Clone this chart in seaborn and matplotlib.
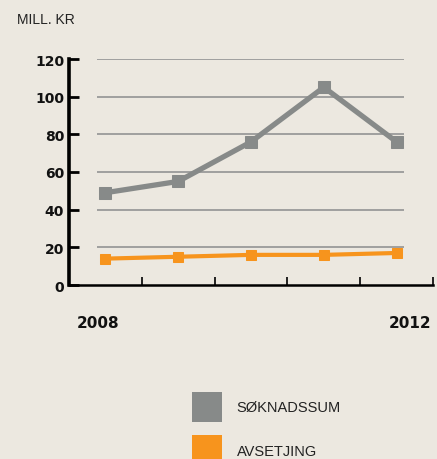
import matplotlib
matplotlib.use("Agg")
import matplotlib.pyplot as plt
import seaborn as sns
import pandas as pd
from matplotlib.patches import Patch

# Data
years = [2008, 2009, 2010, 2011, 2012]
soknadssum = [49, 55, 76, 105, 76]
avsetjing = [14, 15, 16, 16, 17]
series_names = ["SØKNADSSUM", "AVSETJING"]
y_ticks = [0, 20, 40, 60, 80, 100, 120]
year_labels = ["2008", "2012"]
unit_label = "MILL. KR"

bg = "#ECE8E0"
colors = {"SØKNADSSUM": "#878A89", "AVSETJING": "#F7941D"}

sns.set_theme(style="white")
plt.rcParams["font.family"] = ["Liberation Sans", "DejaVu Sans"]
num_font = dict(family="DejaVu Sans", fontweight="bold", color="#111111")

df = pd.DataFrame({
    "år": years * 2,
    "verdi": soknadssum + avsetjing,
    "serie": [series_names[0]] * len(years) + [series_names[1]] * len(years),
})

fig = plt.figure(figsize=(4.37, 4.6), dpi=100, facecolor=bg)
ax = fig.add_axes([69 / 437, 174 / 460, 364 / 437, 226 / 460])
ax.set_facecolor(bg)

# horizontal guide lines
ax.hlines(y_ticks[1:], years[0] - 0.115, years[-1] + 0.10,
          color="#9A9A9A", lw=1.3, zorder=1)

styles = {"SØKNADSSUM": dict(lw=3.8, ms=8.3), "AVSETJING": dict(lw=3.0, ms=7.3)}
for name in series_names:
    sub = df[df["serie"] == name]
    sns.lineplot(data=sub, x="år", y="verdi", ax=ax, color=colors[name],
                 marker="s", markersize=styles[name]["ms"],
                 markeredgecolor=colors[name], linewidth=styles[name]["lw"],
                 zorder=3, clip_on=False, legend=False)

ax.set_xlim(years[0] - 0.5, years[-1] + 0.5)
ax.set_ylim(0, 120)
ax.set_xlabel("")
ax.set_ylabel("")

ax.set_xticks([y - 0.5 for y in years] + [years[-1] + 0.5])
ax.set_xticklabels([])
ax.set_yticks(y_ticks)
ax.set_yticklabels([str(v) for v in y_ticks], fontsize=10, **num_font)

ax.tick_params(axis="x", direction="in", length=6, width=1.2, color="black", bottom=True)
ax.tick_params(axis="y", direction="in", length=7, width=2, color="black",
               left=True, pad=3.5)

for s in ["top", "right"]:
    ax.spines[s].set_visible(False)
ax.spines["left"].set_linewidth(2.6)
ax.spines["left"].set_color("black")
ax.spines["left"].set_bounds(0, 120)
ax.spines["bottom"].set_linewidth(1.8)
ax.spines["bottom"].set_color("black")
ax.grid(False)

ax.text(0.022, -0.164, year_labels[0], transform=ax.transAxes, ha="left",
        va="center", fontsize=11, **num_font)
ax.text(0.995, -0.164, year_labels[1], transform=ax.transAxes, ha="right",
        va="center", fontsize=11, **num_font)

fig.text(17 / 437, 1 - 20 / 460, unit_label, ha="left", va="center",
         fontsize=10, color="#222222")

handles = [Patch(facecolor=colors[n], edgecolor="none") for n in series_names]
fig.legend(handles, series_names, loc="upper left",
           bbox_to_anchor=(192 / 437, 1 - 393 / 460), frameon=False,
           borderpad=0, borderaxespad=0, handlelength=2.05, handleheight=2.78,
           handletextpad=1.0, labelspacing=0.91, fontsize=10.5,
           labelcolor="#222222")

fig.savefig("out.png", dpi=100, facecolor=bg)
